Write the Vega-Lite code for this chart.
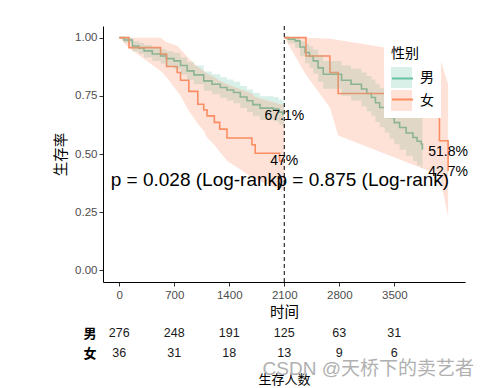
{
  "$schema": "https://vega.github.io/schema/vega-lite/v6.json",
  "padding": {"left": 53, "top": 25, "right": 5, "bottom": 0},
  "config": {
    "font": "Liberation Sans, Noto Sans CJK SC",
    "view": {"stroke": null},
    "axis": {"grid": false, "domainColor": "#000000", "tickColor": "#333333", "labelColor": "#4D4D4D", "labelFontSize": 11.5, "titleColor": "#000000", "titleFontSize": 14.5, "titleFontWeight": "normal", "tickSize": 4}
  },
  "title": {"text": "CSDN @天桥下的卖艺者", "orient": "bottom", "anchor": "end", "offset": -27, "dx": 6, "fontSize": 19, "fontWeight": "normal", "color": "#b0b0b0"},
  "datasets": {
    "curves": [
      {"seg": "L", "sex": "男", "t": 0, "s": 1.0, "lo": 1.0, "hi": 1.0},
      {"seg": "L", "sex": "男", "t": 60, "s": 0.99, "lo": 0.978, "hi": 1.0},
      {"seg": "L", "sex": "男", "t": 167, "s": 0.964, "lo": 0.94, "hi": 0.985},
      {"seg": "L", "sex": "男", "t": 250, "s": 0.955, "lo": 0.93, "hi": 0.978},
      {"seg": "L", "sex": "男", "t": 315, "s": 0.943, "lo": 0.915, "hi": 0.968},
      {"seg": "L", "sex": "男", "t": 420, "s": 0.93, "lo": 0.9, "hi": 0.958},
      {"seg": "L", "sex": "男", "t": 526, "s": 0.921, "lo": 0.888, "hi": 0.95},
      {"seg": "L", "sex": "男", "t": 600, "s": 0.91, "lo": 0.876, "hi": 0.942},
      {"seg": "L", "sex": "男", "t": 695, "s": 0.9, "lo": 0.864, "hi": 0.934},
      {"seg": "L", "sex": "男", "t": 780, "s": 0.88, "lo": 0.842, "hi": 0.916},
      {"seg": "L", "sex": "男", "t": 864, "s": 0.857, "lo": 0.818, "hi": 0.895},
      {"seg": "L", "sex": "男", "t": 950, "s": 0.84, "lo": 0.8, "hi": 0.88},
      {"seg": "L", "sex": "男", "t": 1075, "s": 0.814, "lo": 0.772, "hi": 0.855},
      {"seg": "L", "sex": "男", "t": 1180, "s": 0.8, "lo": 0.757, "hi": 0.843},
      {"seg": "L", "sex": "男", "t": 1286, "s": 0.786, "lo": 0.742, "hi": 0.83},
      {"seg": "L", "sex": "男", "t": 1370, "s": 0.775, "lo": 0.73, "hi": 0.82},
      {"seg": "L", "sex": "男", "t": 1455, "s": 0.764, "lo": 0.718, "hi": 0.81},
      {"seg": "L", "sex": "男", "t": 1540, "s": 0.745, "lo": 0.698, "hi": 0.792},
      {"seg": "L", "sex": "男", "t": 1625, "s": 0.729, "lo": 0.68, "hi": 0.777},
      {"seg": "L", "sex": "男", "t": 1700, "s": 0.712, "lo": 0.662, "hi": 0.762},
      {"seg": "L", "sex": "男", "t": 1793, "s": 0.697, "lo": 0.646, "hi": 0.748},
      {"seg": "L", "sex": "男", "t": 1962, "s": 0.693, "lo": 0.641, "hi": 0.745},
      {"seg": "L", "sex": "男", "t": 2030, "s": 0.68, "lo": 0.627, "hi": 0.733},
      {"seg": "L", "sex": "男", "t": 2080, "s": 0.671, "lo": 0.617, "hi": 0.725},
      {"seg": "L", "sex": "男", "t": 2100, "s": 0.671, "lo": 0.617, "hi": 0.725},
      {"seg": "L", "sex": "女", "t": 0, "s": 1.0, "lo": 1.0, "hi": 1.0},
      {"seg": "L", "sex": "女", "t": 124, "s": 0.957, "lo": 0.955, "hi": 1.0},
      {"seg": "L", "sex": "女", "t": 526, "s": 0.929, "lo": 0.857, "hi": 1.0},
      {"seg": "L", "sex": "女", "t": 602, "s": 0.876, "lo": 0.83, "hi": 0.98},
      {"seg": "L", "sex": "女", "t": 737, "s": 0.85, "lo": 0.77, "hi": 0.965},
      {"seg": "L", "sex": "女", "t": 780, "s": 0.817, "lo": 0.75, "hi": 0.95},
      {"seg": "L", "sex": "女", "t": 885, "s": 0.769, "lo": 0.686, "hi": 0.91},
      {"seg": "L", "sex": "女", "t": 999, "s": 0.714, "lo": 0.63, "hi": 0.875},
      {"seg": "L", "sex": "女", "t": 1075, "s": 0.689, "lo": 0.6, "hi": 0.857},
      {"seg": "L", "sex": "女", "t": 1117, "s": 0.664, "lo": 0.571, "hi": 0.845},
      {"seg": "L", "sex": "女", "t": 1210, "s": 0.636, "lo": 0.54, "hi": 0.83},
      {"seg": "L", "sex": "女", "t": 1278, "s": 0.607, "lo": 0.51, "hi": 0.815},
      {"seg": "L", "sex": "女", "t": 1371, "s": 0.569, "lo": 0.471, "hi": 0.8},
      {"seg": "L", "sex": "女", "t": 1688, "s": 0.54, "lo": 0.4, "hi": 0.76},
      {"seg": "L", "sex": "女", "t": 1730, "s": 0.503, "lo": 0.39, "hi": 0.745},
      {"seg": "L", "sex": "女", "t": 2040, "s": 0.47, "lo": 0.35, "hi": 0.715},
      {"seg": "L", "sex": "女", "t": 2100, "s": 0.47, "lo": 0.343, "hi": 0.71},
      {"seg": "R", "sex": "男", "t": 2100, "s": 1.0, "lo": 1.0, "hi": 1.0},
      {"seg": "R", "sex": "男", "t": 2150, "s": 0.993, "lo": 0.975, "hi": 1.0},
      {"seg": "R", "sex": "男", "t": 2237, "s": 0.986, "lo": 0.955, "hi": 1.0},
      {"seg": "R", "sex": "男", "t": 2300, "s": 0.96, "lo": 0.92, "hi": 0.985},
      {"seg": "R", "sex": "男", "t": 2364, "s": 0.936, "lo": 0.89, "hi": 0.972},
      {"seg": "R", "sex": "男", "t": 2420, "s": 0.92, "lo": 0.87, "hi": 0.962},
      {"seg": "R", "sex": "男", "t": 2469, "s": 0.9, "lo": 0.845, "hi": 0.948},
      {"seg": "R", "sex": "男", "t": 2530, "s": 0.87, "lo": 0.81, "hi": 0.925},
      {"seg": "R", "sex": "男", "t": 2596, "s": 0.843, "lo": 0.78, "hi": 0.9},
      {"seg": "R", "sex": "男", "t": 2829, "s": 0.817, "lo": 0.75, "hi": 0.88},
      {"seg": "R", "sex": "男", "t": 2950, "s": 0.8, "lo": 0.73, "hi": 0.866},
      {"seg": "R", "sex": "男", "t": 3082, "s": 0.779, "lo": 0.705, "hi": 0.85},
      {"seg": "R", "sex": "男", "t": 3150, "s": 0.76, "lo": 0.684, "hi": 0.835},
      {"seg": "R", "sex": "男", "t": 3209, "s": 0.743, "lo": 0.664, "hi": 0.82},
      {"seg": "R", "sex": "男", "t": 3260, "s": 0.72, "lo": 0.638, "hi": 0.8},
      {"seg": "R", "sex": "男", "t": 3314, "s": 0.7, "lo": 0.615, "hi": 0.782},
      {"seg": "R", "sex": "男", "t": 3380, "s": 0.68, "lo": 0.592, "hi": 0.765},
      {"seg": "R", "sex": "男", "t": 3441, "s": 0.657, "lo": 0.566, "hi": 0.745},
      {"seg": "R", "sex": "男", "t": 3500, "s": 0.635, "lo": 0.542, "hi": 0.727},
      {"seg": "R", "sex": "男", "t": 3568, "s": 0.614, "lo": 0.518, "hi": 0.71},
      {"seg": "R", "sex": "男", "t": 3650, "s": 0.59, "lo": 0.492, "hi": 0.69},
      {"seg": "R", "sex": "男", "t": 3737, "s": 0.571, "lo": 0.47, "hi": 0.675},
      {"seg": "R", "sex": "男", "t": 3790, "s": 0.555, "lo": 0.452, "hi": 0.665},
      {"seg": "R", "sex": "男", "t": 3842, "s": 0.543, "lo": 0.44, "hi": 0.66},
      {"seg": "R", "sex": "男", "t": 3858, "s": 0.518, "lo": 0.42, "hi": 0.63},
      {"seg": "R", "sex": "女", "t": 2100, "s": 1.0, "lo": 1.0, "hi": 1.0},
      {"seg": "R", "sex": "女", "t": 2376, "s": 0.921, "lo": 0.84, "hi": 1.0},
      {"seg": "R", "sex": "女", "t": 2681, "s": 0.85, "lo": 0.7, "hi": 0.995},
      {"seg": "R", "sex": "女", "t": 2786, "s": 0.76, "lo": 0.58, "hi": 0.99},
      {"seg": "R", "sex": "女", "t": 4075, "s": 0.557, "lo": 0.41, "hi": 0.92},
      {"seg": "R", "sex": "女", "t": 4185, "s": 0.427, "lo": 0.23, "hi": 0.8}
    ],
    "labels": [
      {"t": 2100, "s": 0.665, "label": "67.1%"},
      {"t": 2100, "s": 0.47, "label": "47%"},
      {"t": 4185, "s": 0.51, "label": "51.8%"},
      {"t": 4185, "s": 0.424, "label": "42.7%"}
    ],
    "pvals": [
      {"t": 990, "s": 0.364, "label": "p = 0.028 (Log-rank)"},
      {"t": 3100, "s": 0.364, "label": "p = 0.875 (Log-rank)"}
    ],
    "cut": [{"t": 2100}],
    "risk": [
      {"sex": "男", "t": 0, "n": 276},
      {"sex": "男", "t": 700, "n": 248},
      {"sex": "男", "t": 1400, "n": 191},
      {"sex": "男", "t": 2100, "n": 125},
      {"sex": "男", "t": 2800, "n": 63},
      {"sex": "男", "t": 3500, "n": 31},
      {"sex": "女", "t": 0, "n": 36},
      {"sex": "女", "t": 700, "n": 31},
      {"sex": "女", "t": 1400, "n": 18},
      {"sex": "女", "t": 2100, "n": 13},
      {"sex": "女", "t": 2800, "n": 9},
      {"sex": "女", "t": 3500, "n": 6}
    ]
  },
  "spacing": 4,
  "resolve": {"legend": {"fill": "independent", "stroke": "independent"}},
  "vconcat": [
    {
      "width": 362,
      "height": 256,
      "layer": [
        {
          "data": {"name": "curves"},
          "mark": {"type": "line", "interpolate": "step-after", "strokeWidth": 1.6},
          "encoding": {
            "x": {"field": "t", "type": "quantitative", "title": "时间", "scale": {"domain": [-207, 4400], "nice": false, "zero": false}, "axis": {"values": [0, 700, 1400, 2100, 2800, 3500], "format": "d", "labelPadding": 3, "titlePadding": 5}},
            "y": {"field": "s", "type": "quantitative", "title": "生存率", "scale": {"domain": [-0.05, 1.05], "nice": false, "zero": false}, "axis": {"values": [0, 0.25, 0.5, 0.75, 1], "format": ".2f", "labelPadding": 2, "titlePadding": 6}},
            "stroke": {"field": "sex", "type": "nominal", "scale": {"domain": ["男", "女"], "range": ["#66C2A5", "#FC8D62"]},
              "legend": {"title": "性别", "orient": "none", "legendX": 281, "legendY": 14, "padding": 7, "symbolType": "stroke", "symbolSize": 441, "symbolStrokeWidth": 2, "titleFontSize": 14, "titleFontWeight": "normal", "titleColor": "#000000", "labelFontSize": 14, "labelColor": "#000000", "rowPadding": 2, "titlePadding": 6, "labelOffset": 8, "titleOpacity": 0, "labelOpacity": 0, "zindex": 2}},
            "detail": {"field": "seg"}
          }
        },
        {
          "data": {"name": "curves"},
          "transform": [{"filter": "datum.sex == '男'"}],
          "mark": {"type": "area", "interpolate": "step-after", "opacity": 0.25},
          "encoding": {
            "x": {"field": "t", "type": "quantitative", "title": "时间"},
            "y": {"field": "lo", "type": "quantitative", "title": "生存率"},
            "y2": {"field": "hi"},
            "fill": {"field": "sex", "type": "nominal", "scale": {"domain": ["男", "女", "_"], "range": ["#66C2A5", "#FC8D62", "#FFFFFF"]},
              "legend": {"title": "性别", "values": ["男", "女"], "orient": "none", "legendX": 281, "legendY": 14, "padding": 7, "fillColor": "white", "symbolType": "square", "symbolSize": 441, "symbolOpacity": 0.25, "symbolStrokeWidth": 0, "symbolStrokeColor": "transparent", "titleFontSize": 14, "titleFontWeight": "normal", "titleColor": "#000000", "labelFontSize": 14, "labelColor": "#000000", "rowPadding": 2, "titlePadding": 6, "labelOffset": 8, "zindex": 1}},
            "detail": {"field": "seg"}
          }
        },
        {
          "data": {"name": "curves"},
          "transform": [{"filter": "datum.sex == '女'"}],
          "mark": {"type": "area", "interpolate": "linear", "opacity": 0.25},
          "encoding": {
            "x": {"field": "t", "type": "quantitative", "title": "时间"},
            "y": {"field": "lo", "type": "quantitative", "title": "生存率"},
            "y2": {"field": "hi"},
            "fill": {"field": "sex", "type": "nominal"},
            "detail": {"field": "seg"}
          }
        },
        {
          "data": {"name": "cut"},
          "mark": {"type": "rule", "strokeDash": [4, 3], "strokeWidth": 1, "color": "#000000"},
          "encoding": {"x": {"field": "t", "type": "quantitative", "title": "时间"}}
        },
        {
          "data": {"name": "labels"},
          "mark": {"type": "text", "fontSize": 14, "color": "#000000", "align": "center", "baseline": "middle"},
          "encoding": {
            "x": {"field": "t", "type": "quantitative", "title": "时间"},
            "y": {"field": "s", "type": "quantitative", "title": "生存率"},
            "text": {"field": "label"}
          }
        },
        {
          "data": {"name": "pvals"},
          "mark": {"type": "text", "fontSize": 19, "color": "#000000", "align": "center", "baseline": "alphabetic"},
          "encoding": {
            "x": {"field": "t", "type": "quantitative", "title": "时间"},
            "y": {"field": "s", "type": "quantitative", "title": "生存率"},
            "text": {"field": "label"}
          }
        }
      ]
    },
    {
      "width": 362,
      "height": 40.6,
      "data": {"name": "risk"},
      "mark": {"type": "text", "fontSize": 12.5, "color": "#1a1a1a"},
      "encoding": {
        "x": {"field": "t", "type": "quantitative", "scale": {"domain": [-207, 4400], "nice": false, "zero": false}, "axis": {"labels": false, "ticks": false, "domain": false, "title": "生存人数", "titleFontSize": 13, "titlePadding": 10}},
        "y": {"field": "sex", "type": "nominal", "scale": {"domain": ["男", "女"], "paddingInner": 0, "paddingOuter": 0}, "axis": {"title": null, "ticks": false, "domain": false, "labelColor": "#000000", "labelFontSize": 13, "labelFontWeight": "bold", "labelPadding": 7}},
        "text": {"field": "n"}
      }
    }
  ]
}
